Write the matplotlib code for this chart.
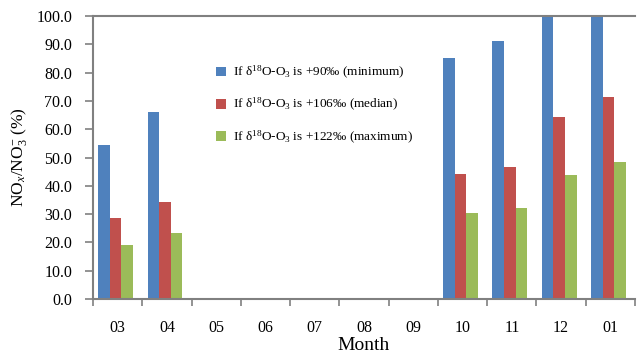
import matplotlib
matplotlib.use("Agg")
import matplotlib.pyplot as plt
import numpy as np

months = ["03", "04", "05", "06", "07", "08", "09", "10", "11", "12", "01"]
minimum = [54.5, 66.0, 0, 0, 0, 0, 0, 85.3, 91.0, 100.0, 100.0]
median = [28.5, 34.3, 0, 0, 0, 0, 0, 44.0, 46.8, 64.3, 71.5]
maximum = [19.2, 23.5, 0, 0, 0, 0, 0, 30.3, 32.0, 43.8, 48.5]

labels = ["If δ$^{18}$O-O$_3$ is +90‰ (minimum)",
          "If δ$^{18}$O-O$_3$ is +106‰ (median)",
          "If δ$^{18}$O-O$_3$ is +122‰ (maximum)"]
colors = ["#4F81BD", "#C0504D", "#9BBB59"]

plt.rcParams["font.family"] = ["Liberation Serif", "DejaVu Serif"]
plt.rcParams["mathtext.fontset"] = "custom"
plt.rcParams["mathtext.rm"] = "Liberation Serif"
plt.rcParams["mathtext.it"] = "Liberation Serif:italic"

fig = plt.figure(figsize=(6.43, 3.61), dpi=100)
ax = fig.add_axes([0.1446, 0.1717, 0.843, 0.784])

x = np.arange(len(months))
w = 0.235
for i, (vals, c, lab) in enumerate(zip([minimum, median, maximum], colors, labels)):
    ax.bar(x + (i - 1) * w - 0.04, vals, w, color=c, label=lab)

ax.set_xlim(-0.5, len(months) - 0.5)
ax.set_ylim(0, 100)
ax.set_yticks(np.arange(0, 101, 10))
ax.set_yticklabels([f"{v:.1f}" for v in np.arange(0, 101, 10)], fontsize=11.5)
ax.set_xticks(x)
ax.set_xticklabels(months, fontsize=11.5)
ax.set_xticks(np.arange(-0.5, len(months), 1), minor=True)
ax.tick_params(axis="x", which="major", length=0, pad=15)
ax.tick_params(axis="x", which="minor", length=5, color="#808080", width=1.2)
ax.tick_params(axis="y", length=6, color="#808080", width=1.2, pad=9)

for s in ["left", "bottom", "top"]:
    ax.spines[s].set_color("#808080")
    ax.spines[s].set_linewidth(1.5)
ax.spines["right"].set_visible(False)

ax.set_xlabel("Month", fontsize=14, labelpad=1)
ax.set_ylabel(r"NO$_{\mathit{x}}$/NO$_3^{-}$ (%)", fontsize=12.5, labelpad=5)

ax.legend(loc="upper left", bbox_to_anchor=(0.318, 0.855), bbox_transform=fig.transFigure,
          frameon=False, fontsize=9.5, handlelength=0.75, handleheight=0.75,
          labelspacing=1.15, handletextpad=0.5)

fig.savefig("out.png", dpi=100)
